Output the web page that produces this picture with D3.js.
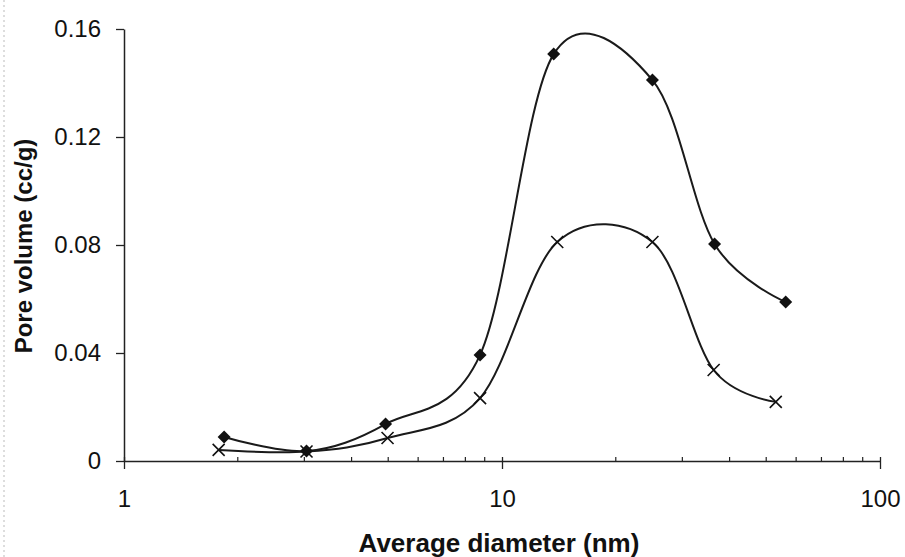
<!DOCTYPE html>
<html>
<head>
<meta charset="utf-8">
<script src="https://cdn.jsdelivr.net/npm/d3@7"></script>
<style>
  html, body { margin: 0; padding: 0; background: #fff; }
  svg { display: block; }
  text { font-family: "Liberation Sans", Arial, sans-serif; fill: #111; }
</style>
</head>
<body>
<div id="svg-container"></div>
<script>
// values
const diameterA = [1.84, 3.04, 4.92, 8.75, 13.7, 25.0, 36.5, 56.3];
const volumeA = [0.0089, 0.0037, 0.0137, 0.0393, 0.1507, 0.1411, 0.0804, 0.0589];
const diameterB = [1.78, 3.04, 4.98, 8.75, 14.0, 25.0, 36.3, 53.0];
const volumeB = [0.0041, 0.0035, 0.0085, 0.0233, 0.0811, 0.0811, 0.0337, 0.0219];
const yTicks = [0, 0.04, 0.08, 0.12, 0.16];
const xMajor = [1, 10, 100];
const xMinor = [2, 3, 4, 5, 6, 7, 8, 9, 20, 30, 40, 50, 60, 70, 80, 90];

const width = 905, height = 557;
const margin = { top: 29, left: 124, right: 25, bottom: 96 };

const svg = d3.select('#svg-container')
    .append('svg')
    .attr('width', width)
    .attr('height', height);

// scan artifact down the left edge
svg.append('line')
    .attr('x1', 4).attr('x2', 4).attr('y1', 0).attr('y2', height)
    .attr('stroke', '#bbb').attr('stroke-width', 1)
    .attr('stroke-dasharray', '2,3');

const x = d3.scaleLog().domain([1, 100]).range([margin.left, width - margin.right]);
const y = d3.scaleLinear().domain([0, 0.16]).range([height - margin.bottom, margin.top]);
const y0 = y(0);

// y axis
const yAxis = svg.append('g')
    .attr('class', 'y-axis')
    .attr('transform', `translate(${margin.left},0)`)
    .call(d3.axisLeft(y).tickValues(yTicks).tickSize(8).tickSizeOuter(0).tickPadding(15)
        .tickFormat(d => d === 0 ? '0' : d3.format('.2f')(d)));
yAxis.select('.domain').attr('stroke', '#222').attr('stroke-width', 1.5);
yAxis.selectAll('.tick line').attr('stroke', '#222').attr('stroke-width', 1.3);
yAxis.selectAll('text').style('font-size', '24px').attr('fill', '#111');

// x axis
const xAxis = svg.append('g')
    .attr('class', 'x-axis')
    .attr('transform', `translate(0,${y0})`)
    .call(d3.axisBottom(x).tickValues(xMajor).tickSize(8).tickSizeOuter(0).tickPadding(21)
        .tickFormat(d3.format('d')));
xAxis.select('.domain').attr('stroke', '#222').attr('stroke-width', 1.5);
xAxis.selectAll('.tick line').attr('y1', -4).attr('stroke', '#222').attr('stroke-width', 1.3);
xAxis.selectAll('text').style('font-size', '24px').attr('fill', '#111');

// minor ticks point up into the plot
xAxis.selectAll('line.minor').data(xMinor)
    .enter()
    .append('line')
    .attr('class', 'minor')
    .attr('x1', d => x(d)).attr('x2', d => x(d))
    .attr('y1', 0).attr('y2', -4)
    .attr('stroke', '#222').attr('stroke-width', 1.2);

// axis titles
svg.append('text')
    .attr('x', 499)
    .attr('y', 552)
    .attr('text-anchor', 'middle')
    .style('font-size', '26px')
    .style('font-weight', 'bold')
    .text('Average diameter (nm)');

svg.append('text')
    .attr('transform', 'translate(32,246) rotate(-90)')
    .attr('text-anchor', 'middle')
    .style('font-size', '24px')
    .style('font-weight', 'bold')
    .text('Pore volume (cc/g)');

// series
const line = d3.line()
    .x(d => x(d[0]))
    .y(d => y(d[1]))
    .curve(d3.curveCatmullRom.alpha(0));

const seriesA = diameterA.map((d, i) => [d, volumeA[i]]);
const seriesB = diameterB.map((d, i) => [d, volumeB[i]]);

[seriesA, seriesB].forEach(s => {
    svg.append('path')
        .datum(s)
        .attr('d', line)
        .attr('fill', 'none')
        .attr('stroke', '#1a1a1a')
        .attr('stroke-width', 2);
});

// diamond markers
svg.selectAll('path.diamond').data(seriesA)
    .enter()
    .append('path')
    .attr('class', 'diamond')
    .attr('d', 'M0,-6.5L6.5,0L0,6.5L-6.5,0Z')
    .attr('transform', d => `translate(${x(d[0])},${y(d[1])})`)
    .attr('fill', '#111');

// cross markers
svg.selectAll('path.cross').data(seriesB)
    .enter()
    .append('path')
    .attr('class', 'cross')
    .attr('d', 'M-6,-6L6,6M-6,6L6,-6')
    .attr('transform', d => `translate(${x(d[0])},${y(d[1])})`)
    .attr('fill', 'none')
    .attr('stroke', '#111')
    .attr('stroke-width', 1.6);
</script>
</body>
</html>
